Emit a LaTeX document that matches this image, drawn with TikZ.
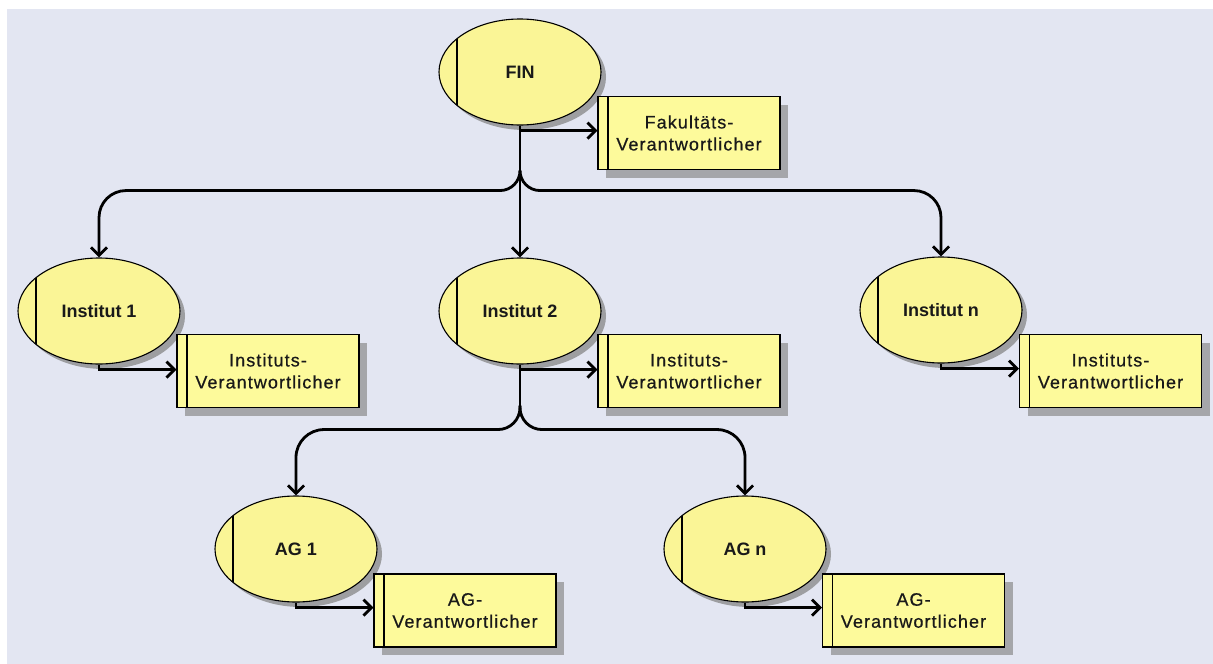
\documentclass[tikz,border=0pt]{standalone}
\usepackage{fontspec}
\setmainfont{Liberation Sans}
\newfontfamily\unitfont{Liberation Sans}[Scale=1]
\newfontfamily\rolefont{Liberation Sans}[LetterSpace=6,FakeBold=0.6]
\usetikzlibrary{shapes.geometric,shadows,arrows.meta,calc}
\definecolor{bgc}{RGB}{227,230,242}
\definecolor{ellc}{RGB}{250,245,150}
\definecolor{boxc}{RGB}{253,250,155}
\definecolor{txt}{RGB}{25,25,25}
\begin{document}
\begin{tikzpicture}[x=1pt,y=-1pt,
 unit/.style={ellipse, draw=black, line width=1.1pt, fill=ellc,
   minimum width=162pt, minimum height=106pt, inner sep=0pt, text=txt,
   font=\unitfont\bfseries\fontsize{18}{20}\selectfont,
   drop shadow={shadow xshift=5pt,shadow yshift=-5pt,fill=black!50,opacity=0.7},
   path picture={\draw[line width=1.2pt] ([xshift=18pt]path picture bounding box.north west) -- ([xshift=18pt]path picture bounding box.south west);}},
 role/.style={rectangle, draw=black, line width=1.1pt, fill=boxc,
   minimum width=182pt, minimum height=73pt, inner sep=0pt, align=center, text=txt,
   font=\rolefont\fontsize{18}{22}\selectfont,
   drop shadow={shadow xshift=8pt,shadow yshift=-8pt,fill=black!45,opacity=0.7},
   path picture={\draw[line width=1.2pt] ([xshift=10pt]path picture bounding box.north west) -- ([xshift=10pt]path picture bounding box.south west);}},
 link/.style={line width=2.8pt, -{Straight Barb[length=8pt,width=16pt]}},
 duty/.style={line width=2.8pt, -{Straight Barb[length=8pt,width=16pt]}}
]
\useasboundingbox (0,0) rectangle (1213,664);
\fill[bgc] (7,9) rectangle (1213,664);

\node[unit] (fin) at (520,72) {FIN};
\node[role] (fbox) at (689,133) {Fakultäts-\\Verantwortlicher};

\node[unit] (inst1) at (99,311) {Institut 1};
\node[role] (ibox1) at (268,371) {Instituts-\\Verantwortlicher};
\node[unit] (inst2) at (520,311) {Institut 2};
\node[role] (ibox2) at (689,371) {Instituts-\\Verantwortlicher};
\node[unit] (instn) at (941,310) {Institut n};
\node[role] (iboxn) at (1110.5,371) {Instituts-\\Verantwortlicher};

\node[unit] (ag1) at (296,549) {AG 1};
\node[role] (abox1) at (465,610.5) {AG-\\Verantwortlicher};
\node[unit] (agn) at (745,549) {AG n};
\node[role] (aboxn) at (913.5,610.5) {AG-\\Verantwortlicher};

% level 1
\coordinate (s1) at ($(fin.south)+(0,45)$);
\coordinate (h1) at ($(s1)+(0,20)$);
\draw[link] (fin.south) -- (inst2.north);
\draw[link] (s1) [rounded corners=20pt] -- (h1) [rounded corners=27pt] -- (h1 -| inst1.north) -- (inst1.north);
\draw[link] (s1) [rounded corners=20pt] -- (h1) [rounded corners=27pt] -- (h1 -| instn.north) -- (instn.north);

% level 2
\coordinate (s2) at ($(inst2.south)+(0,41)$);
\coordinate (h2) at ($(s2)+(0,24)$);
\draw[line width=2.8pt] (inst2.south) -- (s2);
\draw[link] (s2) [rounded corners=22pt] -- (h2) [rounded corners=28pt] -- (h2 -| ag1.north) -- (ag1.north);
\draw[link] (s2) [rounded corners=22pt] -- (h2) [rounded corners=28pt] -- (h2 -| agn.north) -- (agn.north);

% responsibilities
\foreach \e/\b in {fin/fbox,inst1/ibox1,inst2/ibox2,instn/iboxn,ag1/abox1,agn/aboxn}{
  \draw[duty] (\e.south) -- ([yshift=-5pt]\e.south) -- ([yshift=-5pt]\e.south -| \b.west);
}
\end{tikzpicture}
\end{document}
